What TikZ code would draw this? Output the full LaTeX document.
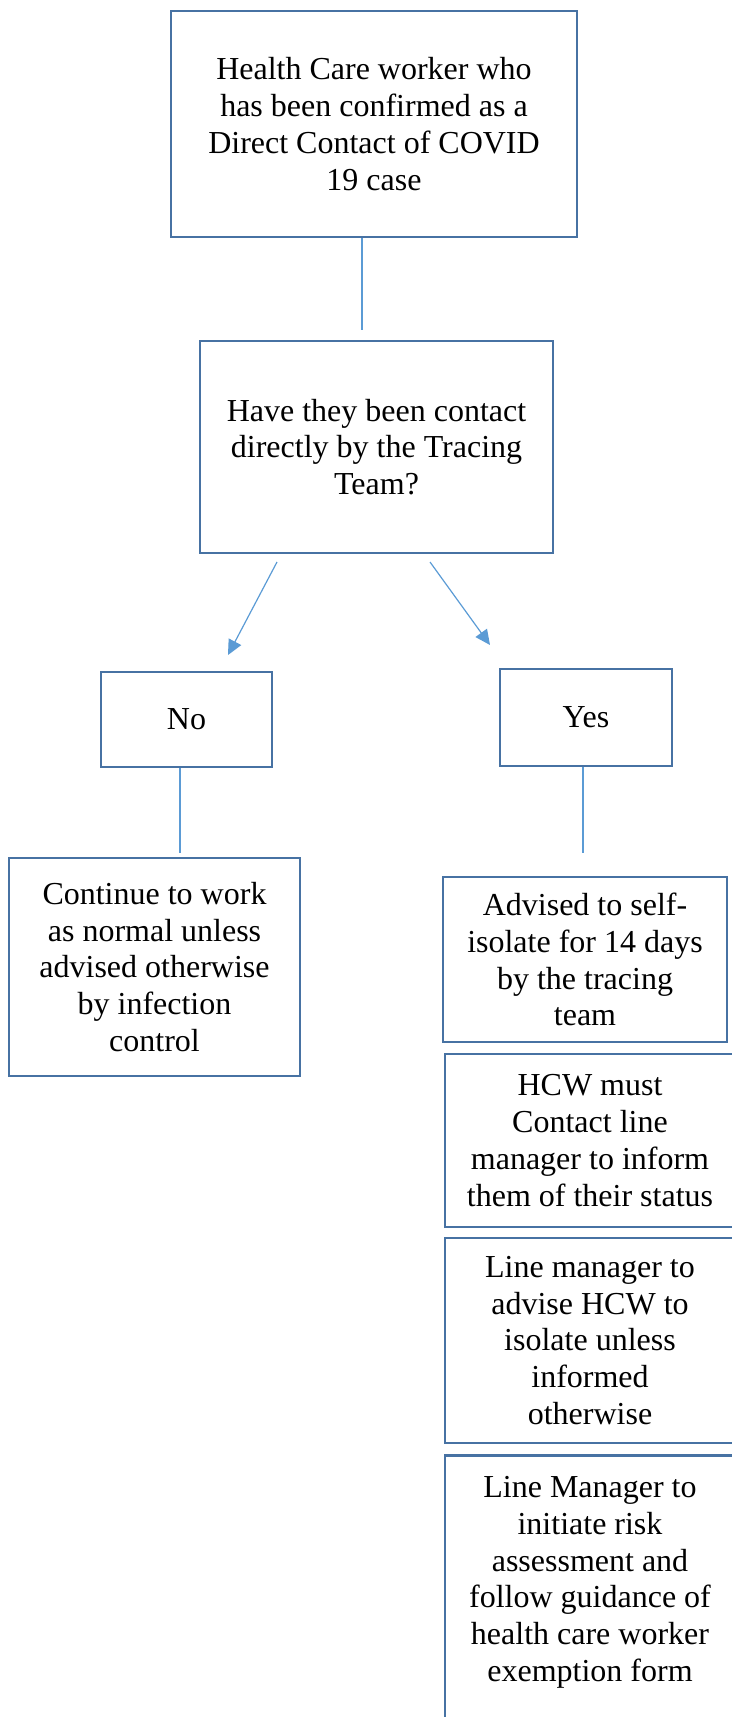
\documentclass[tikz,border=0pt]{standalone}
\usepackage{fontspec}
\setmainfont{Liberation Serif}
\usepackage{tikz}
\usetikzlibrary{arrows.meta}
\definecolor{boxblue}{RGB}{71,114,163}
\definecolor{linkblue}{RGB}{91,155,213}

\begin{document}
\begin{tikzpicture}[x=0.5pt,y=-0.5pt,
       box/.style={draw=boxblue,line width=1.25pt,align=center,inner sep=0pt,font=\fontsize{16pt}{18.4pt}\selectfont},
       link/.style={draw=linkblue,line width=0.6pt},
       arrow/.style={link,-{Triangle[length=7.5pt,width=7pt]}}]
       \useasboundingbox(0,0)rectangle(732,1717);
       \clip(0,0)rectangle(732,1717);
       \node[box,minimum width=203pt,minimum height=113pt](case)at(374,124){Health Care worker who\\has been confirmed as a\\Direct Contact of COVID\\19 case};
       \node[box,minimum width=176.5pt,minimum height=106pt](quest)at(376.5,447){Have they been contact\\directly by the Tracing\\Team?};
       \node[box,minimum width=85.5pt,minimum height=47.5pt](no)at(186.5,719.5){No};
       \node[box,minimum width=86pt,minimum height=48.5pt](yes)at(586,717.5){Yes};
       \node[box,minimum width=145.5pt,minimum height=109pt](cont)at(154.5,967){Continue to work\\as normal unless\\advised otherwise\\by infection\\control};
       \node[box,minimum width=142pt,minimum height=82.5pt](self)at(585,959.5){Advised to self-\\isolate for 14 days\\by the tracing\\team};
       \node[box,minimum width=145pt,minimum height=86.5pt](inform)at(590,1140.5){HCW must\\Contact line\\manager to inform\\them of their status};
       \node[box,minimum width=145pt,minimum height=102.5pt](advise)at(590,1340.5){Line manager to\\advise HCW to\\isolate unless\\informed\\otherwise};
       \node[box,align=flush center,text width=145pt,text depth=140pt,inner ysep=10.5pt,anchor=north](assess)at(590,1454){Line Manager to\\initiate risk\\assessment and\\follow guidance of\\health care worker\\exemption form};
       \coordinate(a1)at(362,330);
       \coordinate(b1)at(277,562);
       \coordinate(b2)at(228,655);
       \coordinate(c1)at(430,562);
       \coordinate(c2)at(490,645);
       \coordinate(d1)at(180,853);
       \coordinate(e1)at(583,853);
       \draw[link](case.south-|a1)--(a1);
       \draw[arrow](b1)--(b2);
       \draw[arrow](c1)--(c2);
       \draw[link](no.south-|d1)--(d1);
       \draw[link](yes.south-|e1)--(e1);
      \end{tikzpicture}
\end{document}
